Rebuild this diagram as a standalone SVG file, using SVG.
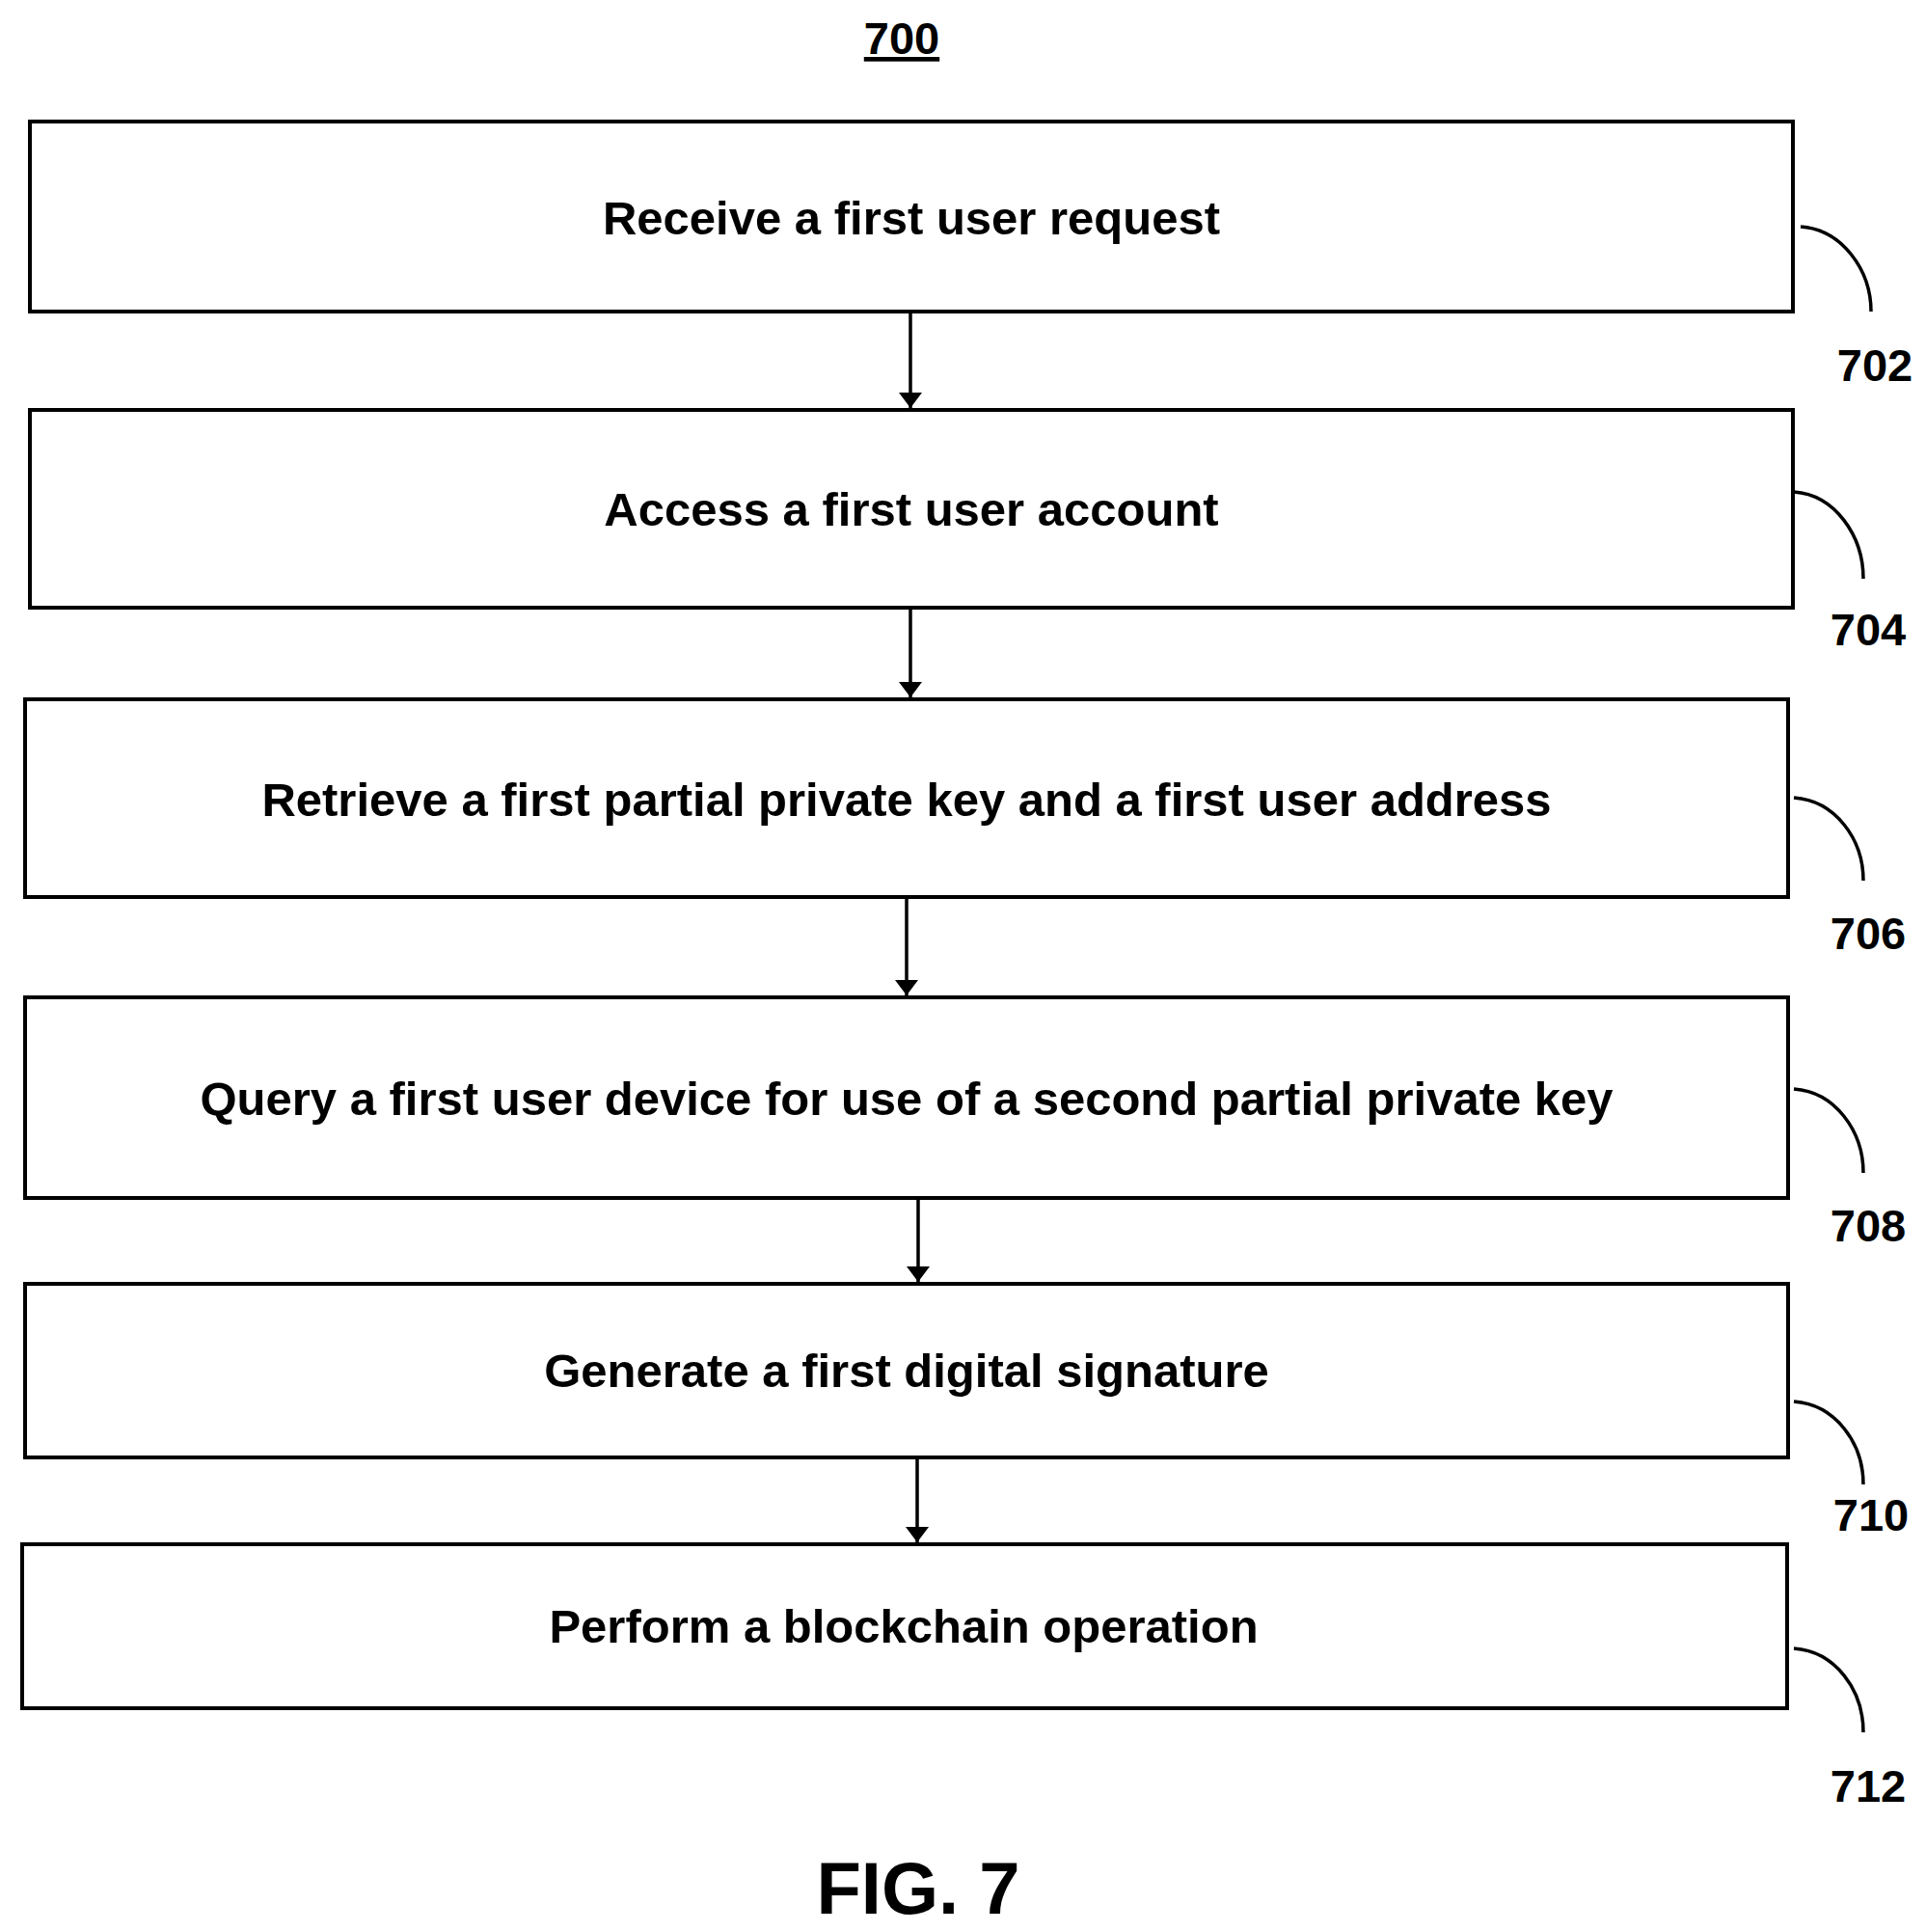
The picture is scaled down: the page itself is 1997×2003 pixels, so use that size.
<svg xmlns="http://www.w3.org/2000/svg" width="1997" height="2003" viewBox="0 0 1997 2003">
<style>
.b{fill:#fff;stroke:#000;stroke-width:4}
.t{font-family:"Liberation Sans",Arial,sans-serif;font-weight:bold;font-size:49px;text-anchor:middle}
.l{font-family:"Liberation Sans",Arial,sans-serif;font-weight:bold;font-size:47px;text-anchor:middle}
.c{fill:none;stroke:#000;stroke-width:3.5}
.e{stroke:#000;stroke-width:3.5;marker-end:url(#a)}
</style>
<defs><marker id="a" markerWidth="16" markerHeight="24" refX="16" refY="12" orient="auto" markerUnits="userSpaceOnUse" viewBox="0 0 16 24"><path d="M0,0L16,12L0,24z"/></marker></defs>
<rect width="1997" height="2003" fill="#fff"/>
<text class="l" x="935" y="56" text-decoration="underline">700</text>
<g id="n702"><rect class="b" x="31" y="126" width="1828" height="197"/><text class="t" x="945" y="243">Receive a first user request</text><path class="c" d="M1867,235 C1910,238 1940,280 1940,323"/><text class="l" x="1944" y="395">702</text></g>
<g id="n704"><rect class="b" x="31" y="425" width="1828" height="205"/><text class="t" x="945" y="545">Access a first user account</text><path class="c" d="M1860,510 C1903,513 1932,556 1932,600"/><text class="l" x="1937" y="669">704</text></g>
<g id="n706"><rect class="b" x="26" y="725" width="1828" height="205"/><text class="t" x="940" y="846">Retrieve a first partial private key and a first user address</text><path class="c" d="M1860,827 C1903,830 1932,870 1932,913"/><text class="l" x="1937" y="984">706</text></g>
<g id="n708"><rect class="b" x="26" y="1034" width="1828" height="208"/><text class="t" x="940" y="1156">Query a first user device for use of a second partial private key</text><path class="c" d="M1860,1129 C1903,1132 1932,1173 1932,1216"/><text class="l" x="1937" y="1287">708</text></g>
<g id="n710"><rect class="b" x="26" y="1331" width="1828" height="180"/><text class="t" x="940" y="1438">Generate a first digital signature</text><path class="c" d="M1860,1453 C1903,1456 1932,1496 1932,1539"/><text class="l" x="1940" y="1587">710</text></g>
<g id="n712"><rect class="b" x="23" y="1601" width="1830" height="170"/><text class="t" x="937" y="1703">Perform a blockchain operation</text><path class="c" d="M1860,1709 C1903,1712 1932,1752 1932,1796"/><text class="l" x="1937" y="1868">712</text></g>
<g id="connectors">
<line class="e" x1="944" y1="325" x2="944" y2="423"/>
<line class="e" x1="944" y1="632" x2="944" y2="723"/>
<line class="e" x1="940" y1="932" x2="940" y2="1032"/>
<line class="e" x1="952" y1="1244" x2="952" y2="1329"/>
<line class="e" x1="951" y1="1513" x2="951" y2="1599"/>
</g>
<text class="t" x="952" y="1984" style="font-size:76px">FIG. 7</text>
</svg>
